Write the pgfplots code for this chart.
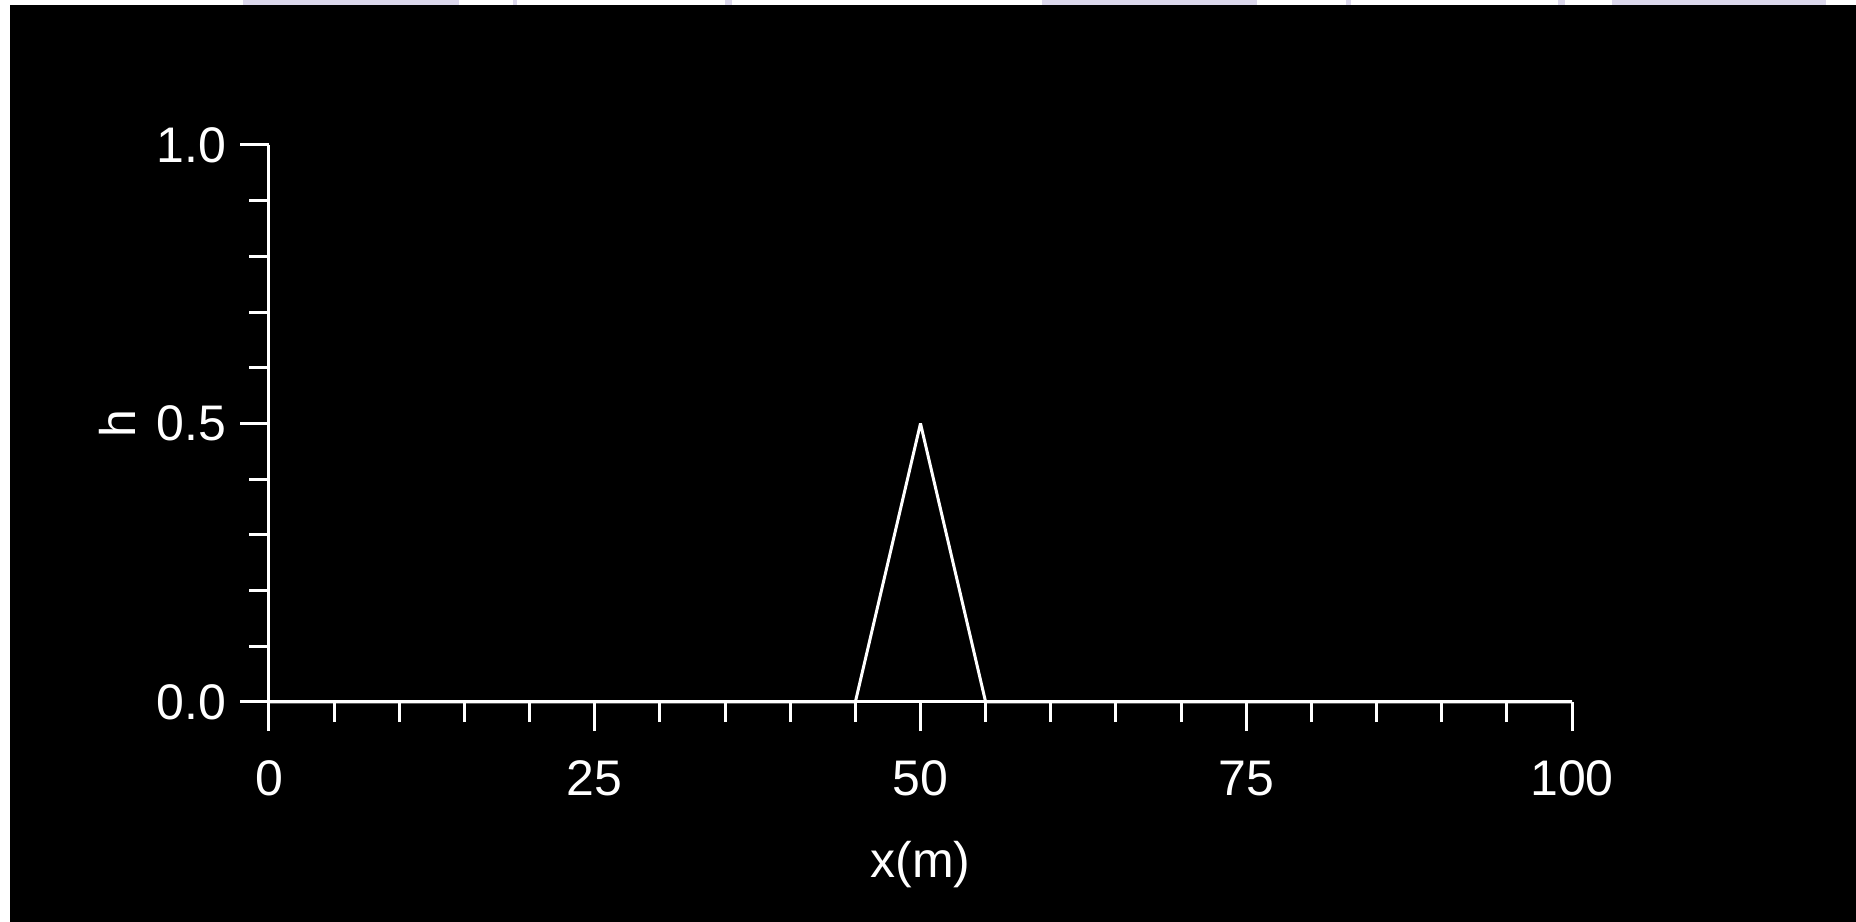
\documentclass[border=0pt]{standalone}
\usepackage{pgfplots}
\pgfplotsset{compat=1.18}
\usepackage{fontspec}
\setmainfont{Liberation Sans}
\definecolor{lav}{RGB}{220,216,236}
\newcommand{\labfont}{\fontsize{12.5}{15}\selectfont}
\begin{document}
\begin{tikzpicture}
% page frame: white margin with pale shapes on top, black panel behind the plot
\begin{scope}[x=0.25pt,y=0.25pt]
  \path[use as bounding box] (0,0) rectangle (1856,922);
  \fill[white] (0,0) rectangle (1856,922);
  \fill[lav] (243,915) rectangle (459,922);
  \fill[lav] (513,915) rectangle (517,922);
  \fill[lav] (725,915) rectangle (732,922);
  \fill[lav] (1042,915) rectangle (1257,922);
  \fill[lav] (1346,915) rectangle (1351,922);
  \fill[lav] (1558,915) rectangle (1565,922);
  \fill[lav] (1612,915) rectangle (1826,922);
  \fill[black] (9.5,0) rectangle (1856,917);
\end{scope}
\begin{axis}[
  at={(67.25pt,55pt)}, anchor=south west,
  scale only axis, width=325.75pt, height=139.25pt,
  xmin=0, xmax=100, ymin=0, ymax=1,
  clip=false,
  axis lines=left,
  axis line style={-, white, line width=0.75pt},
  tick pos=left, tick align=outside,
  major tick length=7.25pt, minor tick length=5pt,
  tick style={white, line width=0.75pt},
  xtick={0,25,50,75,100}, ytick={0,0.5,1},
  minor x tick num=4, minor y tick num=4,
  /pgf/number format/assume math mode=true,
  yticklabel style={/pgf/number format/.cd, fixed, fixed zerofill, precision=1},
  ticklabel style={font=\labfont, text=white, inner sep=0pt},
  xticklabel shift=7.25pt,
  yticklabel shift=3.25pt,
  xlabel={x(m)}, ylabel={h},
  label style={font=\labfont, text=white, inner sep=0pt},
  xlabel style={at={(axis description cs:0.5,-0.3142)}, anchor=base},
  ylabel style={at={(axis description cs:-0.1028,0.5)}, anchor=base},
]
\addplot[white, line width=0.75pt, line join=bevel] coordinates {
  (0,0) (45,0) (50,0.5) (55,0) (100,0)
};
\end{axis}
\end{tikzpicture}
\end{document}
